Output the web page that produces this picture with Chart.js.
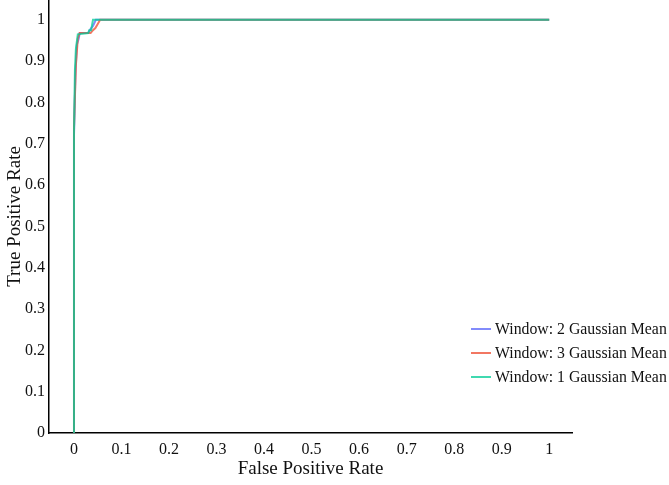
<!DOCTYPE html>
<html>
<head>
<meta charset="utf-8">
<script src="https://cdn.jsdelivr.net/npm/chart.js@4.4.1/dist/chart.umd.min.js"></script>
<style>
  html, body { margin: 0; padding: 0; background: #fff; }
  #wrap { width: 669px; height: 485px; position: relative; }
</style>
</head>
<body>
<div id="wrap"><canvas id="roc"></canvas></div>
<script>
// ROC curves for three smoothing windows (false positive rate, true positive rate)
const seriesLabels = ['Window: 2 Gaussian Mean', 'Window: 3 Gaussian Mean', 'Window: 1 Gaussian Mean'];
const seriesColors = ['rgba(99,110,250,0.8)', 'rgba(239,85,59,0.8)', 'rgba(0,204,150,0.75)'];
const drawOrder = [2, 1, 0]; // lower value is painted on top

const fprWindow2 = [0, 0,    0.003, 0.006, 0.010, 0.012, 0.030, 0.035, 0.040, 0.046, 1];
const tprWindow2 = [0, 0.72, 0.87,  0.94,  0.955, 0.968, 0.968, 0.978, 0.985, 1,     1];

const fprWindow3 = [0, 0,    0.004, 0.008, 0.012, 0.035, 0.040, 0.045, 0.050, 0.055, 1];
const tprWindow3 = [0, 0.74, 0.89,  0.955, 0.968, 0.968, 0.975, 0.980, 0.990, 1,     1];

const fprWindow1 = [0, 0,    0.002, 0.004, 0.008, 0.030, 0.032, 0.036, 0.040, 1];
const tprWindow1 = [0, 0.73, 0.88,  0.93,  0.965, 0.968, 0.975, 0.975, 1,     1];

const xTicks = [0, 0.1, 0.2, 0.3, 0.4, 0.5, 0.6, 0.7, 0.8, 0.9, 1];
const yTicks = [0, 0.1, 0.2, 0.3, 0.4, 0.5, 0.6, 0.7, 0.8, 0.9, 1];

const FONT = '"Liberation Serif", "Times New Roman", serif';

function toPoints(xs, ys) {
  return xs.map((x, i) => ({ x: x, y: ys[i] }));
}

const datasets = [
  toPoints(fprWindow2, tprWindow2),
  toPoints(fprWindow3, tprWindow3),
  toPoints(fprWindow1, tprWindow1)
].map((pts, i) => ({
  label: seriesLabels[i],
  data: pts,
  order: drawOrder[i],
  borderColor: seriesColors[i],
  backgroundColor: seriesColors[i],
  borderWidth: 2,
  pointRadius: 0,
  tension: 0,
  fill: false
}));

// Legend drawn inside the lower right of the plot
const cornerLegend = {
  id: 'cornerLegend',
  afterDraw(chart) {
    const ctx = chart.ctx;
    ctx.save();
    ctx.font = '15.8px ' + FONT;
    ctx.textBaseline = 'middle';
    ctx.textAlign = 'left';
    const x0 = 471, y0 = 329, gap = 24;
    chart.data.datasets.forEach((ds, i) => {
      const y = y0 + i * gap;
      ctx.strokeStyle = ds.borderColor;
      ctx.lineWidth = 2;
      ctx.beginPath();
      ctx.moveTo(x0, y);
      ctx.lineTo(x0 + 20, y);
      ctx.stroke();
      ctx.fillStyle = '#111';
      ctx.fillText(ds.label, x0 + 24, y + 1);
    });
    ctx.restore();
  }
};

new Chart(document.getElementById('roc'), {
  type: 'line',
  data: { datasets: datasets },
  plugins: [cornerLegend],
  options: {
    responsive: true,
    maintainAspectRatio: false,
    animation: false,
    layout: { padding: { top: 0, right: 97, bottom: 0, left: 0 } },
    plugins: {
      legend: { display: false },
      tooltip: { enabled: false }
    },
    scales: {
      x: {
        type: 'linear',
        min: -0.0526,
        max: 1.048,
        grid: { display: false, drawTicks: false },
        border: { display: true, color: '#000', width: 1.5 },
        afterBuildTicks: (scale) => { scale.ticks = xTicks.map(v => ({ value: v })); },
        afterFit: (scale) => {
          scale.height = 52;
          scale.paddingLeft = 0;
          scale.paddingRight = 0;
        },
        ticks: {
          autoSkip: false,
          maxRotation: 0,
          padding: 7,
          color: '#111',
          font: { family: FONT, size: 16 },
          callback: (v) => String(Math.round(v * 10) / 10)
        },
        title: {
          display: true,
          text: 'False Positive Rate',
          color: '#111',
          font: { family: FONT, size: 19 },
          padding: { top: 0, bottom: 5 }
        }
      },
      y: {
        type: 'linear',
        min: 0,
        max: 1.048,
        grid: { display: false, drawTicks: false },
        border: { display: true, color: '#000', width: 1.5 },
        afterBuildTicks: (scale) => { scale.ticks = yTicks.map(v => ({ value: v })); },
        afterFit: (scale) => {
          scale.width = 49;
          scale.paddingTop = 0;
          scale.paddingBottom = 0;
        },
        ticks: {
          autoSkip: false,
          padding: 4,
          color: '#111',
          font: { family: FONT, size: 16 },
          callback: (v) => String(Math.round(v * 10) / 10)
        },
        title: {
          display: true,
          text: 'True Positive Rate',
          color: '#111',
          font: { family: FONT, size: 19 },
          padding: { top: 4, bottom: 0 }
        }
      }
    }
  }
});
</script>
</body>
</html>
